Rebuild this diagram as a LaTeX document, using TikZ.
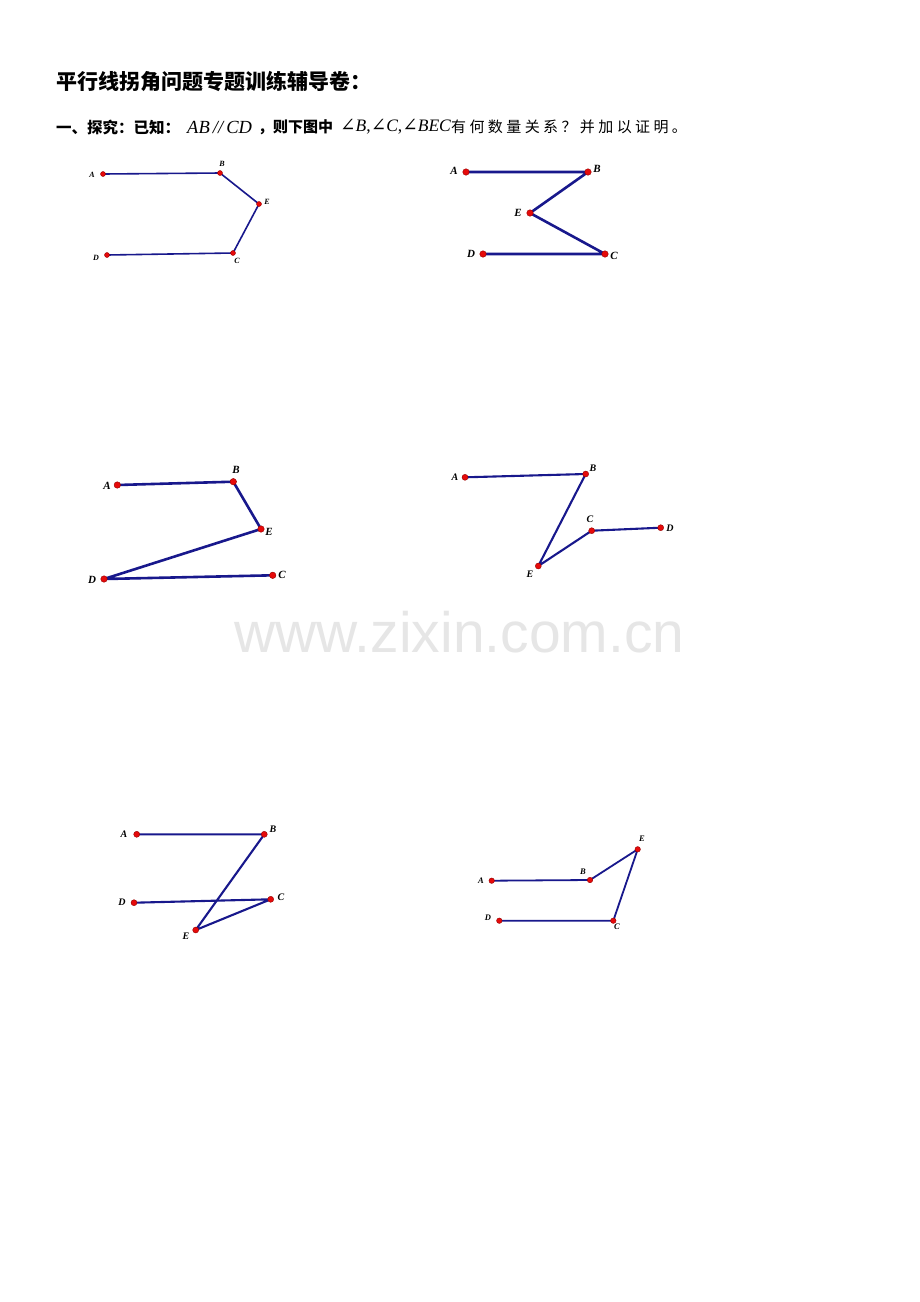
\documentclass[tikz,border=0pt]{standalone}
\usepackage{fontspec}
\setmainfont{Liberation Serif}
\newfontfamily\cjk{Noto Sans CJK SC}
\newfontfamily\wmfont{Liberation Sans}
\newfontfamily\angfont{DejaVu Serif}
\definecolor{segblue}{RGB}{24,24,140}
\definecolor{dotred}{RGB}{230,10,10}
\definecolor{dotedge}{RGB}{150,0,0}
\definecolor{wmgray}{RGB}{230,230,230}
\newcommand{\cjkbox}[1]{\makebox[18.4pt][l]{#1}}
\newcommand{\myang}{{\angfont\fontsize{18.5}{18.5}\selectfont ∠}}
\begin{document}
\begin{tikzpicture}[x=1pt,y=-1pt,
  seg/.style={draw=segblue,line cap=round,line join=round},
  pt/.style={circle,fill=dotred,draw=dotedge,line width=0.4pt,inner sep=0pt,minimum size=#1},
  pt/.default=5.5pt,
  lab/.style={font=\fontsize{#1}{#1}\selectfont\bfseries\itshape,inner sep=0pt},
  lab/.default=10pt]
\useasboundingbox[fill=white] (0,0) rectangle (920,1302);

% watermark
\node[font=\wmfont\fontsize{57}{57}\selectfont,text=wmgray,anchor=base,inner sep=0pt] (wm) at (459.5,652) {www.zixin.com.cn};

% title
\node[anchor=west,inner sep=0pt,font=\cjk\bfseries\fontsize{21}{21}\selectfont] (title) at (56,81) {平行线拐角问题专题训练辅导卷：};

% question line
\node[anchor=west,inner sep=0pt,font=\cjk\bfseries\fontsize{15.5}{15.5}\selectfont] (q1) at (56,127) {一、探究：已知：};
\node[anchor=west,inner sep=0pt,font=\fontsize{18.5}{18.5}\selectfont] (q2) at (187,127) {\itshape AB\,//\,CD};
\node[anchor=west,inner sep=0pt,font=\cjk\bfseries\fontsize{15}{15}\selectfont] (q3) at (258,127) {，则下图中};
\node[anchor=west,inner sep=0pt,font=\fontsize{17.5}{17.5}\selectfont] (q4) at (340,127) {\myang\textit{B},\myang\textit{C},\myang\textit{BEC}};
\node[anchor=west,inner sep=0pt,font=\cjk\fontsize{15}{15}\selectfont] (q5) at (451,127) {\cjkbox{有}\cjkbox{何}\cjkbox{数}\cjkbox{量}\cjkbox{关}\cjkbox{系}\cjkbox{？}\cjkbox{并}\cjkbox{加}\cjkbox{以}\cjkbox{证}\cjkbox{明}\cjkbox{。}};

% ---------- figure 1
\coordinate (A1) at (103,174);
\coordinate (B1) at (220,173);
\coordinate (E1) at (259,204);
\coordinate (C1) at (233,253);
\coordinate (D1) at (107,255);
\draw[seg,line width=1.6pt] (A1) -- (B1) -- (E1) -- (C1) -- (D1);
\foreach \p in {A1,B1,E1,C1,D1} \node[pt=5pt] at (\p) {};
\node[lab=8pt] (lA1) at (92,175) {A};
\node[lab=8pt] (lB1) at (222,164) {B};
\node[lab=8pt] (lE1) at (267,202) {E};
\node[lab=8pt] (lC1) at (237,261) {C};
\node[lab=8pt] (lD1) at (96,258) {D};

% ---------- figure 2
\coordinate (A2) at (466,172);
\coordinate (B2) at (588,172);
\coordinate (E2) at (530,213);
\coordinate (C2) at (605,254);
\coordinate (D2) at (483,254);
\draw[seg,line width=2.6pt] (A2) -- (B2) -- (E2) -- (C2) -- (D2);
\foreach \p in {A2,B2,E2,C2,D2} \node[pt=6.5pt] at (\p) {};
\node[lab=11pt] (lA2) at (454,171) {A};
\node[lab=11pt] (lB2) at (597,169) {B};
\node[lab=11pt] (lE2) at (518,213) {E};
\node[lab=11pt] (lC2) at (614,256) {C};
\node[lab=11pt] (lD2) at (471,254) {D};

% ---------- figure 3
\coordinate (A3) at (117.3,485);
\coordinate (B3) at (233.3,481.7);
\coordinate (E3) at (261,529);
\coordinate (D3) at (104,579);
\coordinate (C3) at (272.7,575.3);
\draw[seg,line width=2.6pt] (A3) -- (B3) -- (E3) -- (D3) -- (C3);
\foreach \p in {A3,B3,E3,C3,D3} \node[pt=6.5pt] at (\p) {};
\node[lab=11pt] (lA3) at (107,486) {A};
\node[lab=11pt] (lB3) at (236,470) {B};
\node[lab=11pt] (lE3) at (269,532) {E};
\node[lab=11pt] (lD3) at (92,580) {D};
\node[lab=11pt] (lC3) at (282,575) {C};

% ---------- figure 4
\coordinate (A4) at (465,477.3);
\coordinate (B4) at (585.7,474);
\coordinate (E4) at (538.3,566);
\coordinate (C4) at (591.7,530.7);
\coordinate (D4) at (660.7,527.7);
\draw[seg,line width=2.1pt] (A4) -- (B4) -- (E4) -- (C4) -- (D4);
\foreach \p in {A4,B4,E4,C4,D4} \node[pt=6pt] at (\p) {};
\node[lab=10pt] (lA4) at (455,477) {A};
\node[lab=10pt] (lB4) at (593,468) {B};
\node[lab=10pt] (lC4) at (590,519) {C};
\node[lab=10pt] (lD4) at (670,528) {D};
\node[lab=10pt] (lE4) at (530,574) {E};

% ---------- figure 5
\coordinate (A5) at (136.7,834.3);
\coordinate (B5) at (264.3,834.3);
\coordinate (E5) at (195.7,930);
\coordinate (C5) at (270.7,899.3);
\coordinate (D5) at (134,902.7);
\draw[seg,line width=2.1pt] (A5) -- (B5) -- (E5) -- (C5) -- (D5);
\foreach \p in {A5,B5,E5,C5,D5} \node[pt=6pt] at (\p) {};
\node[lab=10pt] (lA5) at (124,834) {A};
\node[lab=10pt] (lB5) at (273,829) {B};
\node[lab=10pt] (lD5) at (122,902) {D};
\node[lab=10pt] (lC5) at (281,897) {C};
\node[lab=10pt] (lE5) at (186,936) {E};

% ---------- figure 6
\coordinate (A6) at (491.7,880.7);
\coordinate (B6) at (590,880);
\coordinate (E6) at (637.7,849.3);
\coordinate (C6) at (613.3,920.7);
\coordinate (D6) at (499.3,920.7);
\draw[seg,line width=1.8pt] (A6) -- (B6) -- (E6) -- (C6) -- (D6);
\foreach \p in {A6,B6,E6,C6,D6} \node[pt=5.5pt] at (\p) {};
\node[lab=8.5pt] (lA6) at (481,881) {A};
\node[lab=8.5pt] (lB6) at (583,872) {B};
\node[lab=8.5pt] (lE6) at (642,839) {E};
\node[lab=8.5pt] (lD6) at (488,918) {D};
\node[lab=8.5pt] (lC6) at (617,927) {C};
\end{tikzpicture}
\end{document}
